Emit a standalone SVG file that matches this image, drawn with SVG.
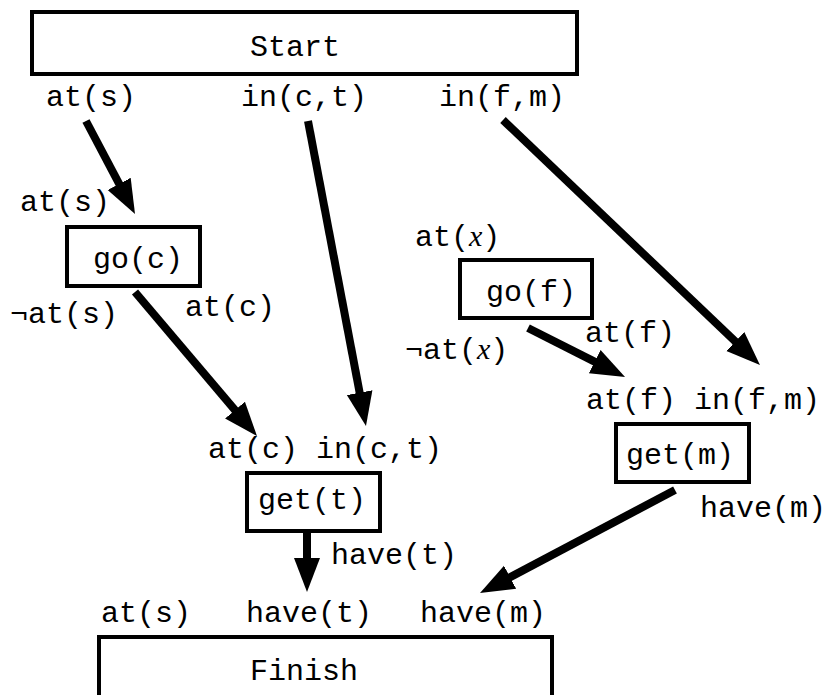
<svg xmlns="http://www.w3.org/2000/svg" width="828" height="695" viewBox="0 0 828 695">
<style>
  text { font-family: "Liberation Mono", "Courier New", monospace; font-size: 30px; fill: #000; }
  .it { font-family: "Liberation Serif", "Times New Roman", serif; font-style: italic; }
  .box { fill: #fff; stroke: #000; stroke-width: 4; }
  .arrow { stroke: #000; stroke-width: 8; fill: none; marker-end: url(#head); }
</style>
<defs>
  <marker id="head" markerUnits="userSpaceOnUse" markerWidth="40" markerHeight="30" refX="2" refY="13" orient="auto" viewBox="0 0 40 26">
    <path d="M0,0 L34,13 L0,26 Z" fill="#000"/>
  </marker>
</defs>
<rect width="828" height="695" fill="#fff"/>

<g id="start">
  <rect class="box" x="32" y="12" width="545" height="62"/>
  <text x="250" y="56">Start</text>
  <text x="46" y="106">at(s)</text>
  <text x="241" y="106">in(c,t)</text>
  <text x="439" y="106">in(f,m)</text>
</g>

<g id="go-c">
  <text x="20" y="211">at(s)</text>
  <rect class="box" x="67" y="227" width="133" height="59"/>
  <text x="93" y="268">go(c)</text>
  <text x="10" y="323">¬at(s)</text>
  <text x="185" y="316">at(c)</text>
</g>

<g id="go-f">
  <text x="415" y="246">at(<tspan class="it">x</tspan>)</text>
  <rect class="box" x="460" y="260" width="132" height="58"/>
  <text x="486" y="301">go(f)</text>
  <text x="405" y="359">¬at(<tspan class="it">x</tspan>)</text>
  <text x="585" y="342">at(f)</text>
</g>

<g id="get-t">
  <text x="208" y="458">at(c) in(c,t)</text>
  <rect class="box" x="247" y="473" width="133" height="58"/>
  <text x="258" y="509">get(t)</text>
  <text x="331" y="564">have(t)</text>
</g>

<g id="get-m">
  <text x="586" y="409">at(f) in(f,m)</text>
  <rect class="box" x="616" y="424" width="133" height="58"/>
  <text x="626" y="464">get(m)</text>
  <text x="700" y="517">have(m)</text>
</g>

<g id="finish">
  <text x="101" y="622">at(s)</text>
  <text x="246" y="622">have(t)</text>
  <text x="420" y="622">have(m)</text>
  <rect class="box" x="99" y="637" width="453" height="80"/>
  <text x="250" y="680">Finish</text>
</g>

<g id="connectors">
  <line class="arrow" x1="86" y1="121" x2="120.1" y2="185.7"/>
  <line class="arrow" x1="308" y1="121" x2="360" y2="394.6"/>
  <line class="arrow" x1="503" y1="120" x2="736.8" y2="342.9"/>
  <line class="arrow" x1="135" y1="292" x2="236.3" y2="411.6"/>
  <line class="arrow" x1="528" y1="328" x2="596.5" y2="362.6"/>
  <line class="arrow" x1="307" y1="533" x2="307" y2="560"/>
  <line class="arrow" x1="675" y1="490" x2="508.3" y2="578.1"/>
</g>
</svg>
